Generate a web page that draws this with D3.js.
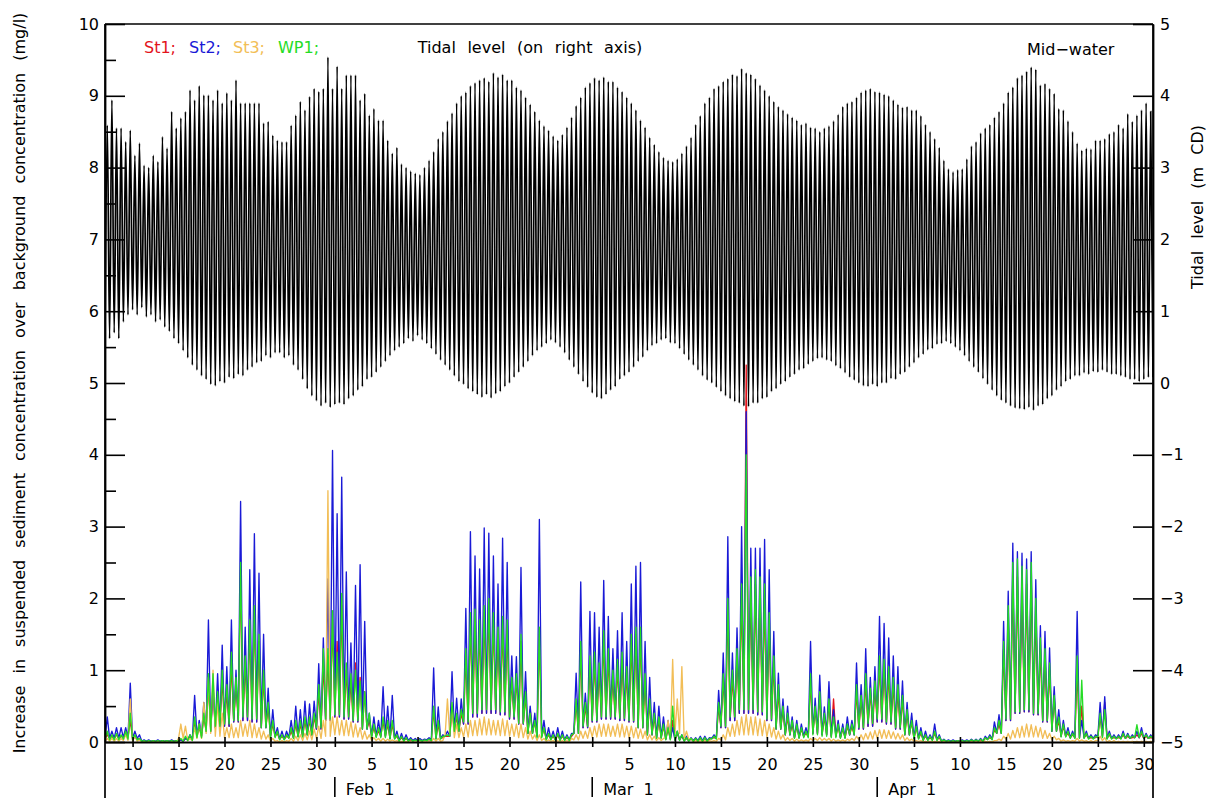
<!DOCTYPE html>
<html>
<head>
<meta charset="utf-8">
<script src="https://cdn.jsdelivr.net/npm/d3@7"></script>
<style>
  body { margin: 0; background: #fff; }
  svg text { font-family: "DejaVu Sans", "Liberation Sans", Arial, sans-serif; }
</style>
</head>
<body>
<svg id="chart" width="1214" height="800"></svg>
<script>
// ---- time span: one sample set per day, Jan 7 .. Apr 30 (2013) ----
const startDay = [2013, 0, 7];
const endDay = [2013, 4, 1];

// Tidal level (m CD): two high waters and two low waters per day
const tideHigh = [
  3.59,3.94, 3.55,3.55, 3.36,3.52, 3.17,3.34, 3.03,3.00, 3.17,3.08, 3.43,3.27, 3.78,3.55, 3.69,3.78, 4.08,3.94,
  4.14,4.01, 4.01,3.94, 4.08,3.90, 4.04,3.94, 4.22,3.90, 3.90,3.90, 3.90,3.90, 3.62,3.64, 3.45,3.38, 3.36,3.36,
  3.59,3.73, 3.92,3.80, 3.99,4.10, 4.06,4.10, 4.54,4.10, 4.41,4.10, 4.29,4.29, 4.29,3.94, 4.03,3.73, 3.82,3.66,
  3.66,3.38, 3.20,3.28, 3.05,3.00, 2.95,2.92, 2.90,3.00, 3.10,3.22, 3.40,3.50, 3.65,3.76, 3.90,4.00, 4.05,4.14,
  4.18,4.22, 4.25,4.20, 4.32,4.26, 4.30,4.22, 4.22,4.12, 4.08,3.98, 3.88,3.78, 3.66,3.58, 3.52,3.44, 3.38,3.46,
  3.56,3.70, 3.86,3.98, 4.12,4.18, 4.25,4.22, 4.26,4.20, 4.20,4.12, 4.06,3.98, 3.90,3.80, 3.66,3.56, 3.42,3.32,
  3.22,3.14, 3.10,3.08, 3.12,3.20, 3.30,3.42, 3.60,3.72, 3.90,3.98, 4.10,4.14, 4.20,4.24, 4.30,4.28, 4.38,4.32,
  4.30,4.24, 4.15,4.08, 4.00,3.92, 3.85,3.80, 3.75,3.70, 3.66,3.60, 3.62,3.56, 3.55,3.50, 3.55,3.58, 3.65,3.74,
  3.85,3.90, 3.92,3.98, 4.05,4.08, 4.10,4.06, 4.05,4.02, 4.00,3.94, 3.88,3.84, 3.85,3.80, 3.80,3.72, 3.60,3.50,
  3.40,3.28, 3.10,2.98, 2.94,2.97, 2.98,3.12, 3.30,3.36, 3.48,3.55, 3.60,3.70, 3.78,3.90, 4.05,4.12, 4.25,4.29,
  4.34,4.40, 4.37,4.15, 4.17,4.10, 4.03,3.82, 3.80,3.65, 3.50,3.34, 3.24,3.27, 3.26,3.38, 3.38,3.40, 3.47,3.50,
  3.60,3.55, 3.75,3.64, 3.73,3.80, 3.90,3.78
];
const tideLow = [
  0.50,0.62, 0.70,0.62, 0.85,0.95, 1.02,0.95, 1.05,0.92, 0.95,0.85, 0.88,0.78, 0.72,0.62, 0.55,0.45, 0.35,0.25,
  0.18,0.10, 0.05,-0.02, -0.04,0.02, 0.00,0.08, 0.06,0.12, 0.10,0.18, 0.22,0.28, 0.30,0.38, 0.35,0.42, 0.42,0.35,
  0.38,0.25, 0.18,0.05, -0.08,-0.18, -0.25,-0.32, -0.28,-0.34, -0.30,-0.28, -0.30,-0.22, -0.18,-0.10, -0.05,0.05, 0.08,0.15,
  0.22,0.30, 0.38,0.45, 0.50,0.55, 0.62,0.58, 0.66,0.60, 0.55,0.48, 0.40,0.32, 0.25,0.18, 0.10,0.02, -0.02,-0.08,
  -0.12,-0.16, -0.20,-0.16, -0.21,-0.15, -0.12,-0.05, 0.00,0.08, 0.15,0.22, 0.30,0.38, 0.45,0.50, 0.55,0.60, 0.56,0.50,
  0.42,0.32, 0.22,0.12, 0.02,-0.06, -0.14,-0.20, -0.22,-0.16, -0.10,-0.05, 0.05,0.10, 0.15,0.22, 0.30,0.36, 0.45,0.52,
  0.55,0.60, 0.62,0.56, 0.55,0.48, 0.40,0.32, 0.25,0.18, 0.10,0.04, 0.00,-0.06, -0.12,-0.18, -0.22,-0.26, -0.28,-0.32,
  -0.33,-0.28, -0.28,-0.22, -0.20,-0.12, -0.08,-0.02, 0.02,0.08, 0.12,0.18, 0.20,0.26, 0.30,0.34, 0.35,0.32, 0.30,0.24,
  0.20,0.14, 0.08,0.04, 0.00,-0.04, -0.05,-0.02, -0.05,0.00, 0.00,0.06, 0.05,0.12, 0.15,0.22, 0.28,0.35, 0.40,0.46,
  0.48,0.54, 0.55,0.58, 0.55,0.50, 0.45,0.38, 0.30,0.22, 0.15,0.06, -0.02,-0.10, -0.18,-0.24, -0.28,-0.32, -0.35,-0.36,
  -0.37,-0.34, -0.38,-0.32, -0.30,-0.22, -0.18,-0.10, -0.05,0.02, 0.05,0.10, 0.10,0.14, 0.12,0.16, 0.15,0.18, 0.15,0.12,
  0.12,0.10, 0.08,0.05, 0.05,0.02, 0.05,0.08
];

// Suspended sediment increase (mg/l): peak for each of the two tides of a day
const st1Peaks = [
  0.10,0.08, 0.10,0.08, 0.10,0.30, 0.06,0.04, 0.02,0.02, 0.02,0.02, 0.02,0.02, 0.02,0.02, 0.03,0.05, 0.08,0.30,
  0.20,0.35, 0.80,0.70, 0.60,0.90, 0.70,1.10, 0.80,2.40, 1.10,1.60, 1.80,1.40, 0.90,0.50, 0.25,0.12, 0.08,0.08,
  0.15,0.25, 0.25,0.30, 0.30,0.35, 0.70,1.10, 1.20,1.70, 1.40,1.90, 1.00,0.85, 1.10,0.90, 0.70,0.30, 0.20,0.15,
  0.30,0.25, 0.25,0.08, 0.06,0.05, 0.03,0.03, 0.03,0.03, 0.03,0.45, 0.25,0.06, 0.08,0.45, 0.35,0.40, 1.20,1.70,
  1.70,1.60, 1.80,1.90, 1.70,1.50, 1.60,1.60, 0.85,0.90, 1.40,0.65, 0.45,0.28, 1.50,0.18, 0.10,0.08, 0.10,0.08,
  0.06,0.08, 0.55,1.30, 0.50,1.10, 1.15,1.00, 1.45,1.20, 0.90,1.05, 1.15,0.95, 1.40,1.50, 1.50,0.85, 0.55,0.35,
  0.30,0.22, 0.18,0.30, 0.12,0.08, 0.05,0.04, 0.04,0.05, 0.05,0.04, 0.06,0.50, 0.90,1.90, 0.90,1.20, 2.00,5.25,
  2.10,2.20, 2.10,2.00, 1.60,1.10, 0.70,0.45, 0.35,0.25, 0.22,0.18, 0.12,0.85, 0.45,0.65, 0.35,0.55, 0.60,0.22,
  0.18,0.22, 0.22,0.70, 0.60,0.85, 0.70,0.75, 1.10,1.05, 0.95,0.80, 0.70,0.60, 0.40,0.28, 0.20,0.12, 0.08,0.06,
  0.12,0.06, 0.02,0.02, 0.02,0.02, 0.02,0.02, 0.02,0.02, 0.03,0.05, 0.06,0.18, 0.25,1.30, 1.70,2.30, 2.30,2.20,
  2.20,2.30, 1.80,1.30, 1.20,1.00, 0.60,0.30, 0.22,0.12, 0.10,1.00, 0.50,0.10, 0.06,0.06, 0.35,0.55, 0.10,0.06,
  0.06,0.10, 0.08,0.06, 0.10,0.12, 0.08,0.06
];
const st2Peaks = [
  0.35,0.15, 0.20,0.20, 0.20,0.82, 0.15,0.10, 0.03,0.03, 0.02,0.03, 0.02,0.02, 0.03,0.02, 0.03,0.05, 0.10,0.65,
  0.30,0.55, 1.70,0.80, 0.95,1.35, 1.05,1.70, 1.00,3.35, 1.60,2.40, 2.90,2.35, 1.50,0.75, 0.45,0.20, 0.15,0.15,
  0.30,0.50, 0.45,0.57, 0.53,0.57, 1.09,1.45, 2.27,4.06, 3.18,3.69, 2.37,1.38, 2.18,2.47, 1.68,0.40, 0.35,0.30,
  0.77,0.50, 0.65,0.15, 0.12,0.10, 0.06,0.05, 0.05,0.04, 0.06,1.03, 0.49,0.10, 0.15,0.98, 0.61,0.60, 1.86,2.93,
  2.59,2.41, 2.98,2.91, 2.59,2.20, 2.84,2.50, 1.20,1.19, 2.43,0.98, 0.50,0.40, 3.10,0.30, 0.20,0.15, 0.20,0.15,
  0.10,0.12, 0.96,2.23, 0.68,1.82, 1.80,1.60, 2.25,1.75, 1.30,1.55, 1.80,1.40, 2.20,2.45, 2.50,1.40, 0.90,0.55,
  0.50,0.35, 0.30,0.20, 0.15,0.10, 0.08,0.06, 0.06,0.08, 0.08,0.06, 0.10,0.72, 1.24,2.86, 1.24,1.59, 3.00,4.60,
  2.70,2.70, 2.70,2.82, 2.40,1.54, 0.96,0.60, 0.50,0.35, 0.30,0.25, 0.20,1.40, 0.61,0.93, 0.49,0.84, 0.45,0.30,
  0.25,0.35, 0.30,1.10, 0.80,1.30, 0.90,1.05, 1.75,1.65, 1.45,1.20, 1.05,0.85, 0.55,0.40, 0.30,0.20, 0.15,0.10,
  0.25,0.10, 0.04,0.03, 0.03,0.02, 0.03,0.03, 0.04,0.04, 0.05,0.08, 0.10,0.28, 0.38,1.68, 2.10,2.77, 2.65,2.63,
  2.55,2.65, 2.26,1.62, 1.54,1.31, 0.77,0.45, 0.30,0.20, 0.15,1.82, 0.30,0.15, 0.10,0.10, 0.55,0.63, 0.15,0.10,
  0.10,0.15, 0.12,0.10, 0.15,0.20, 0.12,0.10
];
const st3Peaks = [
  0.05,0.05, 0.05,0.05, 0.10,0.60, 0.08,0.03, 0.00,0.00, 0.00,0.00, 0.00,0.00, 0.00,0.00, 0.25,0.22, 0.05,0.20,
  0.25,0.55, 0.90,1.00, 0.55,0.40, 0.20,0.25, 0.20,0.30, 0.25,0.30, 0.25,0.20, 0.15,0.10, 0.05,0.02, 0.02,0.02,
  0.05,0.08, 0.10,0.12, 0.15,0.18, 0.22,0.30, 3.50,0.35, 0.35,0.30, 0.30,0.28, 0.25,0.20, 0.15,0.10, 0.06,0.05,
  0.05,0.04, 0.03,0.02, 0.01,0.01, 0.00,0.00, 0.00,0.00, 0.00,0.05, 0.05,0.02, 0.60,0.50, 0.25,0.20, 0.25,0.30,
  0.30,0.32, 0.35,0.32, 0.30,0.30, 0.32,0.30, 0.25,0.25, 0.25,0.20, 0.15,0.10, 0.10,0.05, 0.03,0.02, 0.02,0.02,
  0.02,0.05, 0.10,0.15, 0.15,0.20, 0.22,0.25, 0.25,0.25, 0.22,0.25, 0.25,0.22, 0.22,0.20, 0.18,0.15, 0.10,0.08,
  0.06,0.05, 0.30,1.15, 0.60,1.05, 0.15,0.05, 0.02,0.02, 0.02,0.02, 0.02,0.05, 0.10,0.20, 0.25,0.30, 0.35,0.38,
  0.35,0.35, 0.32,0.30, 0.25,0.20, 0.15,0.10, 0.06,0.05, 0.04,0.03, 0.03,0.05, 0.05,0.06, 0.05,0.05, 0.04,0.03,
  0.03,0.04, 0.05,0.08, 0.10,0.12, 0.14,0.16, 0.17,0.17, 0.16,0.14, 0.12,0.10, 0.06,0.04, 0.02,0.02, 0.01,0.01,
  0.01,0.01, 0.00,0.00, 0.00,0.00, 0.00,0.00, 0.00,0.00, 0.01,0.01, 0.01,0.02, 0.04,0.08, 0.12,0.16, 0.20,0.22,
  0.25,0.24, 0.22,0.20, 0.16,0.12, 0.08,0.05, 0.03,0.02, 0.02,0.05, 0.03,0.02, 0.02,0.02, 0.08,0.06, 0.02,0.02,
  0.01,0.01, 0.01,0.01, 0.01,0.01, 0.01,0.01
];
const wp1Peaks = [
  0.15,0.10, 0.12,0.10, 0.15,0.40, 0.10,0.05, 0.02,0.02, 0.02,0.02, 0.02,0.02, 0.02,0.02, 0.05,0.08, 0.10,0.35,
  0.25,0.40, 0.95,0.95, 0.70,1.00, 0.80,1.25, 0.90,2.50, 1.20,1.70, 1.90,1.50, 1.00,0.55, 0.30,0.15, 0.10,0.10,
  0.20,0.30, 0.30,0.35, 0.35,0.40, 0.80,1.30, 1.30,1.83, 1.25,2.07, 1.10,0.95, 1.00,0.85, 0.70,0.40, 0.25,0.20,
  0.35,0.30, 0.30,0.10, 0.08,0.06, 0.04,0.03, 0.03,0.03, 0.04,0.50, 0.30,0.08, 0.10,0.55, 0.40,0.45, 1.30,1.80,
  1.85,1.70, 1.90,2.00, 1.80,1.60, 1.75,1.70, 0.90,0.95, 1.50,0.70, 0.40,0.30, 1.60,0.20, 0.12,0.10, 0.12,0.10,
  0.08,0.10, 0.60,1.40, 0.55,1.20, 1.25,1.10, 1.55,1.30, 1.00,1.15, 1.25,1.05, 1.50,1.60, 1.60,0.95, 0.60,0.40,
  0.35,0.25, 0.20,0.50, 0.15,0.10, 0.06,0.05, 0.05,0.06, 0.06,0.05, 0.08,0.55, 0.95,2.00, 1.00,1.30, 2.20,4.00,
  2.30,2.40, 2.30,2.20, 1.80,1.20, 0.80,0.50, 0.40,0.30, 0.25,0.20, 0.15,0.95, 0.50,0.70, 0.40,0.60, 0.35,0.25,
  0.20,0.25, 0.25,0.80, 0.65,0.95, 0.75,0.85, 1.20,1.15, 1.05,0.90, 0.80,0.65, 0.45,0.30, 0.22,0.15, 0.10,0.08,
  0.15,0.08, 0.03,0.02, 0.02,0.02, 0.02,0.02, 0.03,0.03, 0.04,0.06, 0.08,0.20, 0.30,1.40, 1.90,2.50, 2.55,2.45,
  2.40,2.50, 2.00,1.45, 1.30,1.10, 0.65,0.35, 0.25,0.15, 0.12,1.20, 0.86,0.12, 0.08,0.08, 0.40,0.45, 0.12,0.08,
  0.08,0.12, 0.10,0.08, 0.24,0.15, 0.10,0.08
];

// Level each series falls back to between tides (one value per day)
const st1Floor = [
  0.05,0.05,0.06,0.05,0.01,0.01,0.01,0.01,0.01,0.03,
  0.08,0.15,0.20,0.22,0.28,0.30,0.28,0.20,0.08,0.04,
  0.06,0.08,0.10,0.18,0.30,0.35,0.32,0.28,0.18,0.08,
  0.08,0.05,0.02,0.02,0.02,0.03,0.05,0.08,0.15,0.25,
  0.35,0.40,0.40,0.38,0.32,0.25,0.12,0.08,0.04,0.03,
  0.03,0.12,0.20,0.28,0.32,0.32,0.30,0.28,0.20,0.10,
  0.06,0.04,0.03,0.02,0.02,0.02,0.05,0.20,0.30,0.40,
  0.40,0.38,0.30,0.18,0.10,0.06,0.08,0.12,0.10,0.08,
  0.06,0.10,0.18,0.22,0.28,0.25,0.18,0.10,0.05,0.03,
  0.03,0.01,0.01,0.01,0.01,0.01,0.04,0.12,0.30,0.40,
  0.42,0.38,0.28,0.15,0.08,0.06,0.06,0.05,0.08,0.05,
  0.05,0.05,0.06,0.05
];
const st2Floor = [
  0.05,0.05,0.06,0.05,0.01,0.01,0.01,0.01,0.01,0.03,
  0.08,0.15,0.20,0.22,0.28,0.30,0.28,0.20,0.08,0.04,
  0.06,0.08,0.10,0.18,0.30,0.35,0.32,0.28,0.18,0.08,
  0.08,0.05,0.02,0.02,0.02,0.03,0.05,0.08,0.15,0.25,
  0.35,0.40,0.40,0.38,0.32,0.25,0.12,0.08,0.04,0.03,
  0.03,0.12,0.20,0.28,0.32,0.32,0.30,0.28,0.20,0.10,
  0.06,0.04,0.03,0.02,0.02,0.02,0.05,0.20,0.30,0.40,
  0.40,0.38,0.30,0.18,0.10,0.06,0.08,0.12,0.10,0.08,
  0.06,0.10,0.18,0.22,0.28,0.25,0.18,0.10,0.05,0.03,
  0.03,0.01,0.01,0.01,0.01,0.01,0.04,0.12,0.30,0.40,
  0.42,0.38,0.28,0.15,0.08,0.06,0.06,0.05,0.08,0.05,
  0.05,0.05,0.06,0.05
];
const st3Floor = [
  0.01,0.01,0.02,0.01,0.00,0.00,0.00,0.00,0.05,0.02,
  0.05,0.12,0.08,0.06,0.06,0.08,0.06,0.04,0.01,0.00,
  0.01,0.02,0.03,0.05,0.08,0.10,0.09,0.07,0.04,0.02,
  0.01,0.01,0.00,0.00,0.00,0.00,0.01,0.10,0.06,0.07,
  0.09,0.10,0.10,0.09,0.08,0.06,0.04,0.02,0.01,0.00,
  0.00,0.03,0.05,0.07,0.08,0.08,0.07,0.06,0.05,0.03,
  0.02,0.06,0.12,0.04,0.00,0.00,0.01,0.03,0.08,0.10,
  0.10,0.09,0.07,0.04,0.02,0.01,0.01,0.02,0.02,0.01,
  0.01,0.02,0.03,0.04,0.05,0.05,0.04,0.02,0.01,0.00,
  0.00,0.00,0.00,0.00,0.00,0.00,0.00,0.02,0.04,0.06,
  0.07,0.07,0.05,0.03,0.01,0.01,0.01,0.00,0.02,0.00,
  0.00,0.00,0.00,0.00
];
const wp1Floor = [
  0.03,0.03,0.04,0.03,0.01,0.01,0.01,0.01,0.01,0.02,
  0.06,0.15,0.22,0.25,0.30,0.35,0.32,0.20,0.06,0.03,
  0.05,0.07,0.10,0.20,0.32,0.38,0.35,0.30,0.18,0.06,
  0.06,0.04,0.01,0.01,0.01,0.02,0.04,0.08,0.15,0.28,
  0.40,0.45,0.45,0.42,0.35,0.26,0.12,0.06,0.03,0.02,
  0.02,0.12,0.22,0.30,0.35,0.35,0.33,0.30,0.20,0.10,
  0.05,0.03,0.02,0.01,0.01,0.01,0.04,0.22,0.35,0.45,
  0.45,0.42,0.32,0.18,0.10,0.05,0.06,0.10,0.08,0.06,
  0.05,0.10,0.20,0.26,0.32,0.28,0.20,0.10,0.04,0.02,
  0.02,0.01,0.01,0.01,0.01,0.01,0.03,0.12,0.32,0.42,
  0.45,0.40,0.30,0.15,0.07,0.05,0.05,0.04,0.06,0.04,
  0.04,0.05,0.06,0.05
];

// Axis ticks and labels
const leftTicks = [0,1,2,3,4,5,6,7,8,9,10];
const leftMinorTicks = [0.5,1.5,2.5,3.5,4.5,5.5,6.5,7.5,8.5,9.5];
const rightTicks = [-5,-4,-3,-2,-1,0,1,2,3,4,5];
const dayTickDays = [1,5,10,15,20,25,30];
const monthLabels = [
  { month: 1, label: "Feb 1" },
  { month: 2, label: "Mar 1" },
  { month: 3, label: "Apr 1" }
];
const legendItems = [
  { label: "St1;", color: "#e3141c" },
  { label: "St2;", color: "#1a1ad6" },
  { label: "St3;", color: "#f2be57" },
  { label: "WP1;", color: "#25dc25" }
];

// ---- layout ----
const margin = { left: 105, right: 1153, top: 24, bottom: 742 };
const svg = d3.select("#chart");
const DAY = 864e5;
const t0 = Date.UTC(...startDay);
const t1 = Date.UTC(...endDay);
const at = d => new Date(t0 + d * DAY);

const x = d3.scaleUtc().domain([new Date(t0), new Date(t1)]).range([margin.left, margin.right]);
const yL = d3.scaleLinear().domain([0, 10]).range([margin.bottom, margin.top]);
const yR = d3.scaleLinear().domain([-5, 5]).range([margin.bottom, margin.top]);

svg.append("defs").append("clipPath").attr("id", "plotClip")
  .append("rect")
  .attr("x", margin.left).attr("y", margin.top)
  .attr("width", margin.right - margin.left).attr("height", margin.bottom - margin.top);

// tide: low water at 0h/12h, high water at 6h/18h of each day
function tidePoints(high, low) {
  const pts = [];
  const n = high.length / 2;
  for (let i = 0; i < n; i++) {
    pts.push({ t: at(i), v: low[2 * i] });
    pts.push({ t: at(i + 0.25), v: high[2 * i] });
    pts.push({ t: at(i + 0.5), v: low[2 * i + 1] });
    pts.push({ t: at(i + 0.75), v: high[2 * i + 1] });
  }
  pts.push({ t: at(n), v: low[low.length - 1] });
  return pts;
}
// sediment: one spike per tide, dropping back to the daily floor between tides
function sedimentPoints(peaks, floor) {
  const pts = [];
  const n = floor.length;
  for (let i = 0; i < n; i++) {
    pts.push({ t: at(i), v: floor[i] });
    pts.push({ t: at(i + 0.25), v: peaks[2 * i] });
    pts.push({ t: at(i + 0.5), v: floor[i] });
    pts.push({ t: at(i + 0.75), v: peaks[2 * i + 1] });
  }
  pts.push({ t: at(n), v: floor[n - 1] });
  return pts;
}

const plot = svg.append("g").attr("clip-path", "url(#plotClip)");

const tideLine = d3.line().x(d => x(d.t)).y(d => yR(d.v)).curve(d3.curveMonotoneX);
plot.append("path")
  .datum(tidePoints(tideHigh, tideLow))
  .attr("fill", "none").attr("stroke", "#000").attr("stroke-width", 1.7)
  .attr("d", tideLine);

const sedLine = d3.line().x(d => x(d.t)).y(d => yL(d.v));
const series = [
  { peaks: st1Peaks, floor: st1Floor, color: legendItems[0].color },
  { peaks: st2Peaks, floor: st2Floor, color: legendItems[1].color },
  { peaks: st3Peaks, floor: st3Floor, color: legendItems[2].color },
  { peaks: wp1Peaks, floor: wp1Floor, color: legendItems[3].color }
];
series.forEach(s => {
  plot.append("path")
    .datum(sedimentPoints(s.peaks, s.floor))
    .attr("fill", "none").attr("stroke", s.color).attr("stroke-width", 1.35)
    .attr("stroke-linejoin", "round")
    .attr("d", sedLine);
});

// ---- frame ----
const frame = svg.append("g").attr("stroke", "#000").attr("stroke-width", 1.7).attr("fill", "none");
frame.append("line").attr("x1", margin.left).attr("x2", margin.right).attr("y1", margin.top).attr("y2", margin.top);
frame.append("line").attr("x1", margin.left).attr("x2", margin.left).attr("y1", margin.top).attr("y2", 798);
frame.append("line").attr("x1", margin.right).attr("x2", margin.right).attr("y1", margin.top).attr("y2", 798);

// ---- left axis ----
const fontSize = 16;
const gL = svg.append("g").attr("transform", `translate(${margin.left},0)`)
  .call(d3.axisLeft(yL).tickValues(leftTicks).tickFormat(d3.format("d"))
    .tickSizeInner(-20).tickSizeOuter(0).tickPadding(6));
svg.append("g").attr("transform", `translate(${margin.left},0)`)
  .call(d3.axisLeft(yL).tickValues(leftMinorTicks).tickFormat("")
    .tickSizeInner(-11).tickSizeOuter(0))
  .call(g => g.select(".domain").remove());

// ---- right axis ----
const gR = svg.append("g").attr("transform", `translate(${margin.right},0)`)
  .call(d3.axisRight(yR).tickValues(rightTicks).tickFormat(d3.format("d"))
    .tickSizeInner(-20).tickSizeOuter(0).tickPadding(7));

// ---- bottom axis ----
const dayTicks = d3.utcDay.range(new Date(t0), new Date(t1))
  .filter(d => dayTickDays.includes(d.getUTCDate()));
const gB = svg.append("g").attr("transform", `translate(0,${margin.bottom})`)
  .call(d3.axisBottom(x).tickValues(dayTicks)
    .tickFormat(d => d.getUTCDate() === 1 ? "" : d.getUTCDate())
    .tickSizeInner(5).tickSizeOuter(0).tickPadding(12));
gB.selectAll(".tick line").attr("y1", -5);

[gL, gR, gB].forEach(g => {
  g.selectAll("text").attr("font-size", fontSize).attr("fill", "#000")
    .attr("font-family", '"DejaVu Sans", "Liberation Sans", Arial, sans-serif');
  g.select(".domain").attr("stroke", "#000").attr("stroke-width", 1.8);
});
svg.selectAll(".tick line").attr("stroke", "#000").attr("stroke-width", 1.6);

// month markers
monthLabels.forEach(m => {
  const mx = x(new Date(Date.UTC(startDay[0], m.month, 1)));
  svg.append("line").attr("x1", mx).attr("x2", mx).attr("y1", 777).attr("y2", 797)
    .attr("stroke", "#000").attr("stroke-width", 1.6);
  svg.append("text").attr("x", mx + 11).attr("y", 795)
    .attr("font-size", fontSize).attr("word-spacing", 5).text(m.label);
});

// ---- titles ----
svg.append("text")
  .attr("transform", `translate(25,383) rotate(-90)`)
  .attr("text-anchor", "middle").attr("font-size", fontSize).attr("word-spacing", 7)
  .text("Increase in suspended sediment concentration over background concentration (mg/l)");
svg.append("text")
  .attr("transform", `translate(1203,207) rotate(-90)`)
  .attr("text-anchor", "middle").attr("font-size", fontSize).attr("word-spacing", 7)
  .text("Tidal level (m CD)");

// ---- legend ----
const legendX = [144, 189, 233, 278];
legendItems.forEach((d, i) => {
  svg.append("text").attr("x", legendX[i]).attr("y", 53)
    .attr("font-size", fontSize).attr("fill", d.color).text(d.label);
});
svg.append("text").attr("x", 530).attr("y", 53).attr("text-anchor", "middle")
  .attr("font-size", fontSize).attr("word-spacing", 6.5).text("Tidal level (on right axis)");
svg.append("text").attr("x", 1027).attr("y", 54.5)
  .attr("font-size", fontSize).text("Mid\u2212water");
</script>
</body>
</html>
